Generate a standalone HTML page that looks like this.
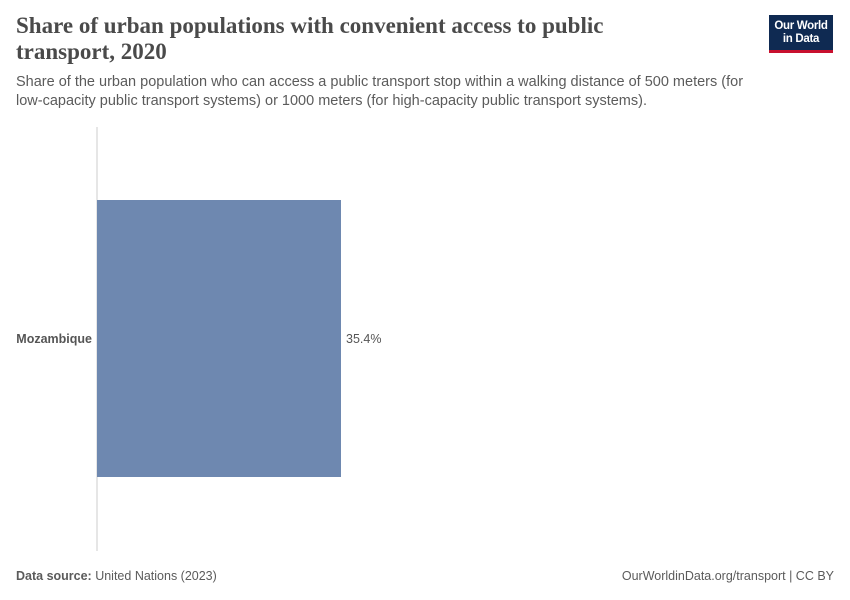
<!DOCTYPE html>
<html><head><meta charset="utf-8"><style>
body{margin:0;width:850px;height:600px;background:#fff;font-family:"Liberation Sans",sans-serif;position:relative;overflow:hidden}
.t{position:absolute;left:16px;top:13px;font-family:"Liberation Serif",serif;font-weight:bold;font-size:23px;line-height:26px;color:#4a4a4a;width:640px}
.s{position:absolute;left:16px;top:73px;font-size:14.5px;line-height:19px;color:#5b5b5b;width:750px}
.logo{position:absolute;left:769px;top:15px;width:64px;height:38px;background:#0f2a52;color:#fff;font-size:11.5px;font-weight:bold;line-height:13px;text-align:center;box-sizing:border-box;padding-top:5px;border-bottom:3px solid #c8102e;letter-spacing:-0.3px}
.f{position:absolute;top:569px;font-size:12.5px;color:#5b5b5b}
</style></head><body>
<div class="t">Share of urban populations with convenient access to public transport, 2020</div>
<div class="s">Share of the urban population who can access a public transport stop within a walking distance of 500 meters (for low-capacity public transport systems) or 1000 meters (for high-capacity public transport systems).</div>
<div class="logo">Our World<br>in Data</div>
<svg id="c" width="850" height="600" style="position:absolute;left:0;top:0"></svg>
<div class="f" style="left:16px"><b>Data source:</b> United Nations (2023)</div>
<div class="f" style="right:16px">OurWorldinData.org/transport | CC BY</div>
<script>
const categories=["Mozambique"];
const values=[35.4];
const valueLabels=["35.4%"];
const svg=document.getElementById('c');
const NS='http://www.w3.org/2000/svg';
const x0=97,pxPerUnit=244/35.4;
const x=v=>x0+v*pxPerUnit;
const yTop=200,bandH=277;
const y=i=>yTop+i*bandH;
const ax=document.createElementNS(NS,'line');
ax.setAttribute('x1',x0);ax.setAttribute('x2',x0);ax.setAttribute('y1',127);ax.setAttribute('y2',551);
ax.setAttribute('stroke','#ccc');


svg.appendChild(ax);
categories.forEach((c,i)=>{
 const r=document.createElementNS(NS,'rect');
 r.setAttribute('x',x(0));r.setAttribute('y',y(i));r.setAttribute('width',x(values[i])-x(0));r.setAttribute('height',bandH);
 r.setAttribute('fill','#6e88b0');
 
 
 svg.appendChild(r);
 const l=document.createElementNS(NS,'text');
 l.setAttribute('x',x0-5);l.setAttribute('y',y(i)+bandH/2+4.5);l.setAttribute('text-anchor','end');
 l.setAttribute('font-size','12.5');l.setAttribute('font-weight','bold');l.setAttribute('fill','#555');
 l.textContent=c;
 
 
 svg.appendChild(l);
 const v=document.createElementNS(NS,'text');
 v.setAttribute('x',x(values[i])+5);v.setAttribute('y',y(i)+bandH/2+4.5);
 v.setAttribute('font-size','12.5');v.setAttribute('fill','#555');
 v.textContent=valueLabels[i];
 
 
 svg.appendChild(v);
});
</script>
</body></html>
